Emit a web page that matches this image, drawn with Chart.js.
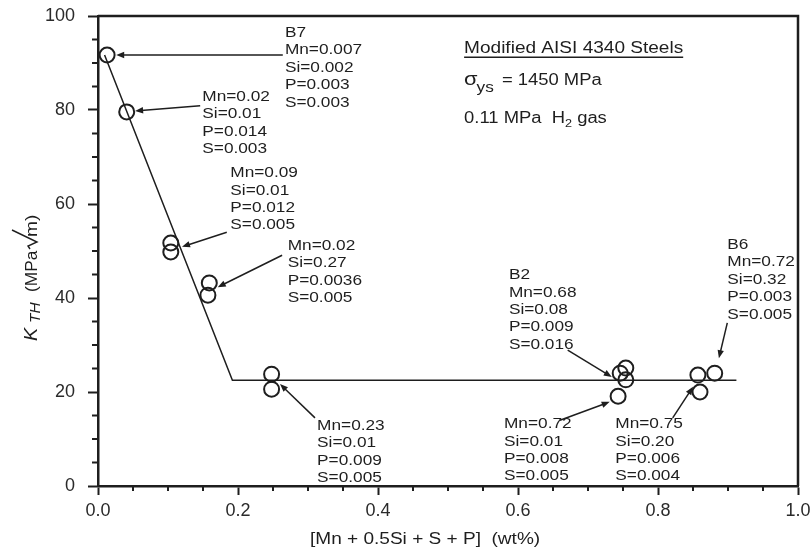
<!DOCTYPE html>
<html>
<head>
<meta charset="utf-8">
<script src="https://cdn.jsdelivr.net/npm/chart.js@4.4.1/dist/chart.umd.min.js"></script>
<style>
  body { margin: 0; background: #fff; }
  #wrap { width: 810px; height: 548px; }
</style>
</head>
<body>
<div id="wrap"><canvas id="plot_kth"></canvas></div>
<script>
// composition [Mn + 0.5Si + S + P] (wt%) and threshold K_TH (MPa sqrt m)
const compX = [0.013, 0.041, 0.104, 0.104, 0.159, 0.157, 0.248, 0.248,
               0.746, 0.754, 0.754, 0.743, 0.857, 0.881, 0.860];
const kthVals = [91.7, 79.6, 51.7, 49.8, 43.2, 40.6, 23.8, 20.6,
                 24.0, 25.1, 22.6, 19.1, 23.6, 24.0, 20.0];

// trend line drawn through the data
const trendX = [0.0094, 0.192, 0.912];
const trendY = [91.7, 22.5, 22.5];

const xMinor = [0.05, 0.1, 0.15, 0.25, 0.3, 0.35, 0.45, 0.5, 0.55, 0.65, 0.7, 0.75, 0.85, 0.9, 0.95];
const yMinor = [5, 10, 15, 25, 30, 35, 45, 50, 55, 65, 70, 75, 85, 90, 95];

// alloy notes: text lines, text anchor, arrow tail, arrow head (data units)
const noteLines = [
    ["B7", "Mn=0.007", "Si=0.002", "P=0.003", "S=0.003"],
    ["Mn=0.02", "Si=0.01", "P=0.014", "S=0.003"],
    ["Mn=0.09", "Si=0.01", "P=0.012", "S=0.005"],
    ["Mn=0.02", "Si=0.27", "P=0.0036", "S=0.005"],
    ["Mn=0.23", "Si=0.01", "P=0.009", "S=0.005"],
    ["B2", "Mn=0.68", "Si=0.08", "P=0.009", "S=0.016"],
    ["Mn=0.72", "Si=0.01", "P=0.008", "S=0.005"],
    ["Mn=0.75", "Si=0.20", "P=0.006", "S=0.004"],
    ["B6", "Mn=0.72", "Si=0.32", "P=0.003", "S=0.005"]
];
const noteAt = [[0.267, 96.4], [0.149, 82.8], [0.189, 66.6], [0.271, 51.1], [0.313, 12.8],
                [0.587, 44.9], [0.580, 13.2], [0.739, 13.2], [0.899, 51.3]];
const arrowFrom = [[0.264, 91.7], [0.146, 80.9], [0.184, 54.0], [0.263, 49.1], [0.310, 14.5],
                   [0.671, 28.9], [0.660, 14.0], [0.821, 14.5], [0.899, 34.7]];
const arrowTo = [[0.026, 91.7], [0.053, 79.8], [0.120, 50.9], [0.171, 42.3], [0.260, 21.7],
                 [0.734, 23.2], [0.731, 17.9], [0.850, 21.1], [0.887, 27.2]];

const INK = '#1e1e1e';
const FONT = '"Liberation Sans", Arial, sans-serif';
const SX = 1.15;  // text in the figure is set wide

function wideText(ctx, s, x, y, size, style, sx) {
    sx = sx || SX;
    ctx.save();
    ctx.font = (style || '') + ' ' + size + 'px ' + FONT;
    let w = ctx.measureText(s).width * sx;
    ctx.translate(x, y);
    ctx.scale(sx, 1);
    ctx.fillText(s, 0, 0);
    ctx.restore();
    return w;
}

const overlay = {
    id: 'overlay',
    afterDraw(chart) {
        const ctx = chart.ctx;
        const xs = chart.scales.x, ys = chart.scales.y;
        const a = chart.chartArea;
        ctx.save();
        ctx.strokeStyle = INK;
        ctx.fillStyle = INK;

        // top and right frame
        ctx.lineWidth = 2.5;
        ctx.beginPath();
        ctx.moveTo(a.left, a.top); ctx.lineTo(a.right, a.top); ctx.lineTo(a.right, a.bottom);
        ctx.stroke();

        // minor ticks
        ctx.lineWidth = 2;
        ctx.beginPath();
        xMinor.forEach(v => { let p = xs.getPixelForValue(v); ctx.moveTo(p, a.bottom); ctx.lineTo(p, a.bottom + 5); });
        yMinor.forEach(v => { let p = ys.getPixelForValue(v); ctx.moveTo(a.left, p); ctx.lineTo(a.left - 6, p); });
        ctx.stroke();

        // notes and arrows
        ctx.textBaseline = 'middle';
        noteLines.forEach((lines, i) => {
            let x0 = xs.getPixelForValue(noteAt[i][0]);
            let y0 = ys.getPixelForValue(noteAt[i][1]);
            lines.forEach((s, j) => wideText(ctx, s, x0, y0 + j * 17.4, 15));
            let x1 = xs.getPixelForValue(arrowFrom[i][0]), y1 = ys.getPixelForValue(arrowFrom[i][1]);
            let x2 = xs.getPixelForValue(arrowTo[i][0]), y2 = ys.getPixelForValue(arrowTo[i][1]);
            let ang = Math.atan2(y2 - y1, x2 - x1);
            ctx.lineWidth = 1.5;
            ctx.beginPath(); ctx.moveTo(x1, y1); ctx.lineTo(x2 - 6 * Math.cos(ang), y2 - 6 * Math.sin(ang)); ctx.stroke();
            ctx.beginPath();
            ctx.moveTo(x2, y2);
            ctx.lineTo(x2 - 8 * Math.cos(ang) + 3.2 * Math.sin(ang), y2 - 8 * Math.sin(ang) - 3.2 * Math.cos(ang));
            ctx.lineTo(x2 - 8 * Math.cos(ang) - 3.2 * Math.sin(ang), y2 - 8 * Math.sin(ang) + 3.2 * Math.cos(ang));
            ctx.closePath(); ctx.fill();
        });

        // header block
        ctx.textBaseline = 'alphabetic';
        let hx = xs.getPixelForValue(0.523);
        let h1 = ys.getPixelForValue(92.1);
        let w = wideText(ctx, 'Modified AISI 4340 Steels', hx, h1, 16, '', 1.19);
        ctx.lineWidth = 1.5;
        ctx.beginPath(); ctx.moveTo(hx, h1 + 4); ctx.lineTo(hx + w, h1 + 4); ctx.stroke();
        let h2 = ys.getPixelForValue(85.3);
        let cx = hx + wideText(ctx, '\u03c3', hx, h2, 19);
        cx += wideText(ctx, 'ys', cx - 1, h2 + 7, 15);
        wideText(ctx, ' = 1450 MPa', cx + 2, h2, 16);
        let h3 = ys.getPixelForValue(77.2);
        cx = hx + wideText(ctx, '0.11 MPa  H', hx, h3, 16);
        cx += wideText(ctx, '2', cx, h3 + 4, 11);
        wideText(ctx, ' gas', cx, h3, 16);

        // x title
        wideText(ctx, '[Mn + 0.5Si + S + P]  (wt%)', 310, a.bottom + 58, 16, '', 1.19);

        // y title, rotated
        ctx.save();
        ctx.translate(37, 342);
        ctx.rotate(-Math.PI / 2);
        wideText(ctx, 'K', 1, 0, 18, 'italic', 1.1);
        wideText(ctx, 'TH', 19, 3, 14, 'italic', 1.1);
        wideText(ctx, '(MPa', 50, 0, 16, '', 1.08);
        ctx.lineWidth = 1.4;
        ctx.beginPath();
        ctx.moveTo(93, -7); ctx.lineTo(96, -9); ctx.lineTo(100, 0); ctx.lineTo(112, -25);
        ctx.stroke();
        wideText(ctx, 'm)', 105, 0, 16, '', 1.2);
        ctx.restore();

        ctx.restore();
    }
};

const ctx_k = document.getElementById('plot_kth').getContext('2d');
const plot_kth = new Chart(ctx_k, {
    type: 'scatter',
    data: {
        datasets: [{
            label: 'trend',
            data: trendX.map((x, i) => ({x: x, y: trendY[i]})),
            showLine: true,
            borderColor: INK,
            borderWidth: 1.5,
            pointRadius: 0,
            tension: 0,
            order: 2
        }, {
            label: 'K_TH',
            data: compX.map((x, i) => ({x: x, y: kthVals[i]})),
            pointStyle: 'circle',
            pointRadius: 7.5,
            borderWidth: 2,
            borderColor: INK,
            backgroundColor: 'rgba(255,255,255,0)',
            order: 1
        }]
    },
    options: {
        responsive: true,
        maintainAspectRatio: false,
        animation: false,
        layout: { padding: { top: 16, right: 12, left: 0, bottom: 0 }, autoPadding: false },
        plugins: { legend: { display: false }, tooltip: { enabled: false } },
        scales: {
            x: {
                type: 'linear',
                min: 0,
                max: 1,
                afterFit: s => { s.height = 62; s.paddingLeft = 0; s.paddingRight = 0; },
                ticks: {
                    stepSize: 0.2,
                    padding: 5,
                    color: '#2a2a2a',
                    font: { family: FONT, size: 18 },
                    maxRotation: 0,
                    callback: v => Number(v).toFixed(1)
                },
                grid: { drawOnChartArea: false, drawTicks: true, tickLength: 9, tickWidth: 2, tickColor: INK },
                border: { display: true, color: INK, width: 2.5 }
            },
            y: {
                min: 0,
                max: 100,
                afterFit: s => { s.width = 98; s.paddingTop = 0; s.paddingBottom = 0; },
                ticks: {
                    stepSize: 20,
                    padding: 13,
                    color: '#2a2a2a',
                    font: { family: FONT, size: 18 }
                },
                grid: { drawOnChartArea: false, drawTicks: true, tickLength: 10, tickWidth: 2, tickColor: INK },
                border: { display: true, color: INK, width: 2.5 }
            }
        }
    },
    plugins: [overlay]
});
</script>
</body>
</html>
